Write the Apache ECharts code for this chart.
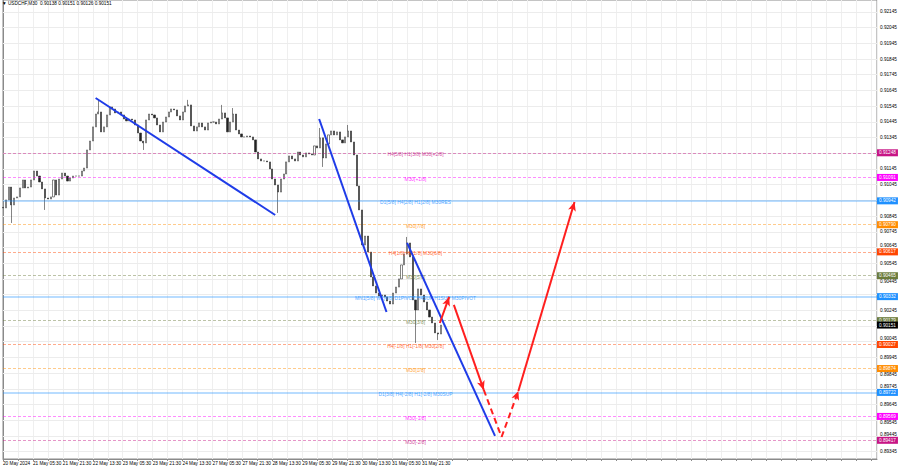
<!DOCTYPE html>
<html><head><meta charset="utf-8">
<script src="https://cdn.jsdelivr.net/npm/echarts@6/dist/echarts.min.js"></script>
<style>html,body{margin:0;padding:0;background:#fff}#c{width:900px;height:468px}</style>
</head><body><div id="c"></div>
<script>
// ---------- data ----------
const chartTitle = '\u25BC USDCHF,M30  0.90138 0.90151 0.90126 0.90151';
const timeLabels = ['20 May 2024','21 May 05:30','21 May 21:30','22 May 13:30','23 May 05:30','23 May 21:30','24 May 13:30','27 May 05:30','27 May 21:30','28 May 13:30','29 May 05:30','29 May 21:30','30 May 13:30','31 May 05:30','31 May 21:30'];
const barsPerLabel = 32;      // M30 bars between time labels
const barsPerCandle = 3;      // each drawn candle = 3 M30 bars
const firstOpen = 0.90900;
const closes = [
0.90897,0.90948,0.91030,0.90916,0.90960,0.90967,0.91024,0.91075,0.91024,0.91030,
0.91075,0.91132,0.91100,0.91062,0.91018,0.90960,0.90954,0.90967,0.91075,0.90979,
0.91081,0.91119,0.91100,0.91068,0.91088,0.91100,0.91100,0.91100,0.91132,0.91151,
0.91266,0.91323,0.91413,0.91495,0.91508,0.91381,0.91413,0.91489,0.91540,0.91527,
0.91502,0.91508,0.91489,0.91463,0.91451,0.91463,0.91457,0.91425,0.91374,0.91323,
0.91311,0.91457,0.91495,0.91489,0.91470,0.91425,0.91381,0.91444,0.91476,0.91508,
0.91527,0.91521,0.91483,0.91457,0.91508,0.91546,0.91553,0.91419,0.91387,0.91413,
0.91438,0.91413,0.91393,0.91438,0.91444,0.91444,0.91432,0.91463,0.91502,0.91470,
0.91381,0.91444,0.91495,0.91393,0.91368,0.91349,0.91349,0.91355,0.91349,0.91330,
0.91253,0.91209,0.91196,0.91196,0.91190,0.91145,0.91081,0.91043,0.90998,0.91081,
0.91113,0.91190,0.91228,0.91209,0.91196,0.91253,0.91234,0.91222,0.91247,0.91241,
0.91234,0.91292,0.91279,0.91343,0.91215,0.91304,0.91362,0.91387,0.91362,0.91381,
0.91330,0.91311,0.91349,0.91387,0.91317,0.91234,0.91037,0.90884,0.90661,0.90718,
0.90616,0.90457,0.90400,0.90355,0.90336,0.90342,0.90330,0.90304,0.90285,0.90355,
0.90393,0.90445,0.90534,0.90604,0.90674,0.90585,0.90311,0.90247,0.90381,0.90342,
0.90298,0.90247,0.90202,0.90164,0.90101,0.90094,0.90151];
const wickHigh = {34:0.91585, 66:0.91585, 78:0.91553, 82:0.91533, 113:0.91406, 123:0.91425, 144:0.90712};
const wickLow  = {3:0.90801, 15:0.90884, 50:0.91266, 98:0.90865, 114:0.91158, 147:0.90037, 155:0.90056};
const priceTicks = [0.92145,0.92045,0.91945,0.91845,0.91745,0.91645,0.91545,0.91445,0.91345,0.91245,
0.91145,0.91045,0.90945,0.90845,0.90745,0.90645,0.90545,0.90445,0.90345,0.90245,0.90145,0.90045,
0.89945,0.89845,0.89745,0.89645,0.89545,0.89445,0.89345];
const levelPrices = [0.91248,0.91091,0.90942,0.90790,0.90617,0.90465,0.90332,0.90179,0.90027,0.89874,0.89722,0.89569,0.89417];
const levelNames = ['H4[5/8] H1[3/8] M30[+2/8]','M30[+1/8]','D1[5/8] H4[2/8] H1[2/8] M30RES','M30[7/8]',
'H4[1/8] H1[1/8] M30[6/8]','M30[5/8]','MN1[5/8] W1[4/8] D1PIVOT H4SUP H1SUP M30PIVOT','M30[3/8]',
'H4[-1/8] H1[-1/8] M30[2/8]','M30[1/8]','D1[3/8] H4[-2/8] H1[-2/8] M30SUP','M30[-1/8]','M30[-2/8]'];
const currentPrice = 0.90151;
const levelLabelBar = 441;
// trend lines & projections: [bar index, price]
const blueTrends = [[[99,0.91597],[291,0.90852]],[[338,0.91463],[410,0.90234]],[[432,0.90674],[526,0.89445]]];
const redSolidArrows = [[[467,0.90164],[477,0.90330]],[[482,0.90279],[514,0.89738]],[[551,0.89731],[611,0.90935]]];
const redDashedPlain = [[[514,0.89738],[533,0.89438]]];
const redDashedArrows = [[[533,0.89438],[551,0.89731]]];

// ---------- styles ----------
const levelColors = ['#c71585','#ff00ff','#1e90ff','#ff8c00','#ff4500','#6b7b3b','#1e90ff','#6b7b3b','#ff4500','#ff8c00','#1e90ff','#ff00ff','#c71585'];
const levelSolid  = [false,false,true,false,false,false,true,false,false,false,true,false,false];
const FONT = 'Liberation Sans';
const FS = 4.7;
const Y_MIN = 0.89298, Y_MAX = 0.92221, PLOT_H = 459;
const pxPerPrice = PLOT_H / (Y_MAX - Y_MIN);
function rgba(hex,a){const n=parseInt(hex.slice(1),16);return `rgba(${n>>16&255},${n>>8&255},${n&255},${a})`;}

const candles = closes.map((c,i)=>{
  const o = i ? closes[i-1] : firstOpen;
  const hi = wickHigh[i] !== undefined ? wickHigh[i] : Math.max(o,c);
  const lo = wickLow[i] !== undefined ? wickLow[i] : Math.min(o,c);
  return [i*barsPerCandle, o, c, lo, hi];
});
const seg = (arr)=>arr.map(p=>[{coord:p[0]},{coord:p[1]}]);

// tick labels: hidden when covered by a price tag, nudged when partly covered
const tagPrices = levelPrices.concat([currentPrice]);
const tickItems = priceTicks.map(v=>{
  let best = null;
  tagPrices.forEach(t=>{ const d=(v-t)*pxPerPrice; if(best===null||Math.abs(d)<Math.abs(best)) best=d; });
  const need = 6.2;
  let show = true, dy = 0;
  if (Math.abs(best) < 2.2) show = false;
  else if (Math.abs(best) < need) dy = (best>0 ? -1 : 1) * (need - Math.abs(best));
  return {yAxis:v,label:{show:show,offset:[0,dy]}};
});

const chart = echarts.init(document.getElementById('c'), null, {renderer:'svg'});
chart.setOption({
  animation:false,
  backgroundColor:'#ffffff',
  title:{text:chartTitle,left:2,top:1,padding:0,textStyle:{fontSize:FS,fontWeight:'normal',color:'#000',fontFamily:FONT}},
  grid:{left:1,right:23,top:0,bottom:9,show:true,borderColor:'#8a8a8a',borderWidth:1,backgroundColor:'transparent'},
  xAxis:{type:'value',min:0,max:934.4,interval:16,
    axisLine:{show:true,lineStyle:{color:'#8a8a8a'}},
    axisTick:{show:true,length:2,lineStyle:{color:'#8a8a8a'}},
    splitLine:{show:true,lineStyle:{color:'#efefef',width:1}},
    axisLabel:{show:true,align:'left',margin:2,fontSize:FS,color:'#000',fontFamily:FONT,showMaxLabel:false,
      formatter:(v)=>{ if(v % barsPerLabel!==0) return ''; const k=v/barsPerLabel; return timeLabels[k]||''; }}},
  yAxis:{type:'value',position:'right',min:Y_MIN,max:Y_MAX,scale:true,
    axisLine:{show:true,lineStyle:{color:'#8a8a8a'}},axisTick:{show:false},axisLabel:{show:false},splitLine:{show:false}},
  series:[
    {type:'line',data:[],silent:true,
      markLine:{silent:true,z:1,symbol:'none',animation:false,precision:5,
        lineStyle:{color:'#ececec',width:1,type:'solid'},
        label:{show:true,position:'end',distance:3,fontSize:FS,color:'#000',fontFamily:FONT,formatter:(p)=>Number(p.value).toFixed(5)},
        data:tickItems}},
    {type:'line',data:[],silent:true,
      markLine:{silent:true,z:3,symbol:'none',animation:false,precision:5,
        data:levelPrices.map((v,i)=>({yAxis:v,
          lineStyle:{color:rgba(levelColors[i],levelSolid[i]?0.42:0.45),width:levelSolid[i]?1.5:1,type:levelSolid[i]?'solid':[3,2]},
          label:{show:true,position:'end',distance:0,fontSize:FS,lineHeight:5,color:'#fff',fontFamily:FONT,backgroundColor:levelColors[i],padding:[1.2,2,0.8,2],formatter:v.toFixed(5)}}))
          .concat([{yAxis:currentPrice,lineStyle:{color:'rgba(0,0,0,0)'},label:{show:true,position:'end',distance:0,fontSize:FS,lineHeight:5,color:'#fff',fontFamily:FONT,backgroundColor:'#000',padding:[1.2,2,0.8,2],formatter:currentPrice.toFixed(5)}}])}},
    {type:'candlestick',z:2,barWidth:1.6,data:candles,encode:{x:0,y:[1,2,3,4]},
      itemStyle:{color:'#ffffff',color0:'#222222',borderColor:'#333333',borderColor0:'#333333',borderWidth:0.6}},
    {type:'scatter',z:4,symbolSize:0,silent:true,
      data:levelPrices.map((v,i)=>({value:[levelLabelBar,v],name:levelNames[i],
        label:{show:true,position:'inside',offset:[0,2],formatter:'{b}',fontSize:4.9,fontFamily:FONT,color:levelColors[i]}}))},
    {type:'line',data:[],silent:true,
      markLine:{silent:true,z:6,symbol:'none',animation:false,precision:5,label:{show:false},
        lineStyle:{color:'#1f3ce8',width:2,type:'solid'},data:seg(blueTrends)}},
    {type:'line',data:[],silent:true,
      markLine:{silent:true,z:7,symbol:['none','arrow'],symbolSize:[6,9],animation:false,precision:5,label:{show:false},
        lineStyle:{color:'#ff1f1f',width:2,type:'solid'},data:seg(redSolidArrows)}},
    {type:'line',data:[],silent:true,
      markLine:{silent:true,z:7,symbol:'none',animation:false,precision:5,label:{show:false},
        lineStyle:{color:'#ff1f1f',width:2,type:[6,4]},data:seg(redDashedPlain)}},
    {type:'line',data:[],silent:true,
      markLine:{silent:true,z:7,symbol:['none','arrow'],symbolSize:[6,9],animation:false,precision:5,label:{show:false},
        lineStyle:{color:'#ff1f1f',width:2,type:[6,4]},data:seg(redDashedArrows)}}
  ]
});
</script></body></html>
